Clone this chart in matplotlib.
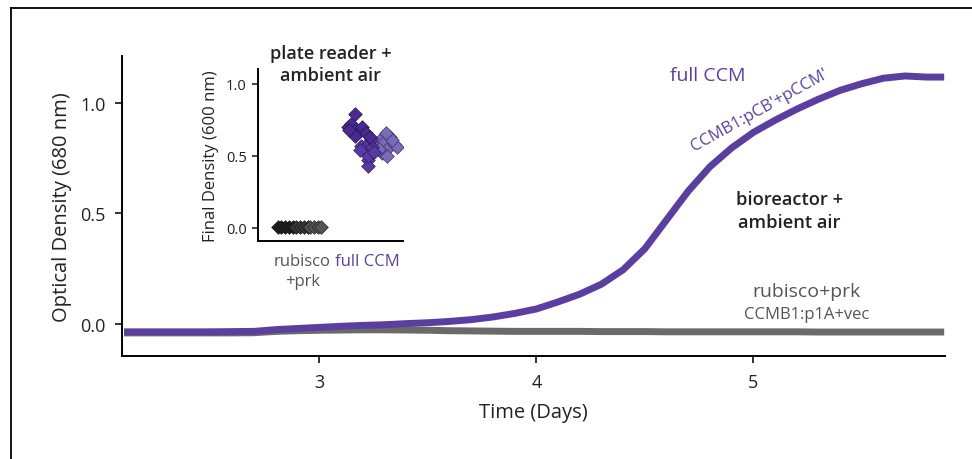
import numpy as np
import matplotlib.pyplot as plt
from matplotlib.lines import Line2D

plt.rcParams['font.family'] = ['Open Sans', 'DejaVu Sans']

# growth curves (bioreactor)
days = [2.1, 2.2, 2.3, 2.4, 2.5, 2.6, 2.7, 2.8, 2.9, 3.0, 3.1, 3.2, 3.3, 3.4,
        3.5, 3.6, 3.7, 3.8, 3.9, 4.0, 4.1, 4.2, 4.3, 4.4, 4.5, 4.6, 4.7, 4.8,
        4.9, 5.0, 5.1, 5.2, 5.3, 5.4, 5.5, 5.6, 5.7, 5.8, 5.88]
od_full_ccm = [-0.035, -0.035, -0.035, -0.035, -0.035, -0.034, -0.033, -0.025,
               -0.02, -0.015, -0.01, -0.006, -0.003, 0.002, 0.006, 0.012, 0.02,
               0.032, 0.048, 0.068, 0.10, 0.135, 0.18, 0.245, 0.34, 0.47, 0.60,
               0.71, 0.795, 0.865, 0.92, 0.97, 1.015, 1.055, 1.085, 1.11, 1.12,
               1.115, 1.115]
od_rubisco = [-0.04, -0.04, -0.04, -0.04, -0.04, -0.04, -0.039, -0.033, -0.03,
              -0.028, -0.027, -0.026, -0.026, -0.027, -0.028, -0.03, -0.031,
              -0.032, -0.033, -0.033, -0.033, -0.033, -0.034, -0.034, -0.034,
              -0.035, -0.035, -0.035, -0.035, -0.035, -0.035, -0.035, -0.036,
              -0.036, -0.036, -0.036, -0.036, -0.036, -0.036]

# inset: final densities in plate reader (x offset within category, value)
rub_black_x = [-0.38, -0.32, -0.26, -0.20, -0.14]
rub_black_y = [0.005, 0.005, 0.005, 0.005, 0.005]
rub_dark_x = [-0.10, -0.04, 0.02, 0.08]
rub_dark_y = [0.006, 0.006, 0.006, 0.006]
rub_grey_x = [0.12, 0.18, 0.24, 0.29]
rub_grey_y = [0.006, 0.006, 0.006, 0.006]

ccm_dark_x = [-0.30, -0.25, -0.20, -0.18, -0.12, -0.20, -0.08, -0.02, 0.04, -0.28]
ccm_dark_y = [0.70, 0.72, 0.79, 0.69, 0.67, 0.64, 0.70, 0.66, 0.63, 0.68]
ccm_mid_x = [-0.10, -0.05, 0.0, 0.02, 0.0, 0.0, 0.0, 0.07, 0.10, -0.12, 0.05]
ccm_mid_y = [0.57, 0.55, 0.52, 0.60, 0.47, 0.43, 0.50, 0.56, 0.53, 0.54, 0.62]
ccm_light_x = [0.15, 0.20, 0.25, 0.30, 0.35, 0.40, 0.22, 0.30, 0.45, 0.38, 0.28, 0.17]
ccm_light_y = [0.58, 0.62, 0.60, 0.55, 0.63, 0.58, 0.52, 0.50, 0.56, 0.61, 0.66, 0.55]

purple = '#5b3fa0'
grey = '#6a6a6a'
txt = '#222222'

fig = plt.figure(figsize=(9.72, 4.6), dpi=100)

# frame lines of the panel (left and top only)
fig.add_artist(Line2D([0.0113, 0.0113], [0.0, 0.98], color='black', lw=1.3,
                      transform=fig.transFigure))
fig.add_artist(Line2D([0.0113, 1.0], [0.98, 0.98], color='black', lw=1.3,
                      transform=fig.transFigure))

ax = fig.add_axes([0.1255, 0.224, 0.847, 0.652])
ax.plot(days, od_rubisco, color=grey, lw=5.0, solid_capstyle='butt')
ax.plot(days, od_full_ccm, color=purple, lw=5.0, solid_capstyle='butt',
        solid_joinstyle='round')
ax.set_xlim(2.09, 5.885)
ax.set_ylim(-0.144, 1.21)
ax.set_xticks([3, 4, 5])
ax.set_yticks([0.0, 0.5, 1.0])
ax.set_yticklabels(['0.0', '0.5', '1.0'])
ax.spines['top'].set_visible(False)
ax.spines['right'].set_visible(False)
for s in ['left', 'bottom']:
    ax.spines[s].set_linewidth(1.4)
ax.tick_params(direction='out', length=5, width=1.3, labelsize=13,
               colors=txt, pad=7)
ax.set_xlabel('Time (Days)', fontsize=14.5, color=txt, labelpad=8)
ax.set_ylabel('Optical Density (680 nm)', fontsize=14.5, color=txt, labelpad=6)

ax.text(4.79, 1.126, 'full CCM', color=purple, fontsize=14, ha='center', va='center')
ax.text(5.03, 0.97, "CCMB1:pCB'+pCCM'", color=purple, fontsize=12,
        ha='center', va='center', rotation=29)
ax.text(5.166, 0.513, 'bioreactor +\nambient air', color=txt, fontsize=13.2,
        fontweight='semibold', ha='center', va='center', linespacing=1.3)
ax.text(5.245, 0.149, 'rubisco+prk', color='#555555', fontsize=14,
        ha='center', va='center')
ax.text(5.245, 0.045, 'CCMB1:p1A+vec', color='#555555', fontsize=12,
        ha='center', va='center')

# inset
ins = fig.add_axes([0.2654, 0.474, 0.149, 0.374])
cats = [0, 1]
ms = 48
ins.scatter([cats[0] + v for v in rub_black_x], rub_black_y, marker='D', s=ms,
            color='#1e1e1e', edgecolor='#111111', lw=0.5, zorder=3)
ins.scatter([cats[0] + v for v in rub_dark_x], rub_dark_y, marker='D', s=ms,
            color='#3a3a3a', edgecolor='#111111', lw=0.5, zorder=3)
ins.scatter([cats[0] + v for v in rub_grey_x], rub_grey_y, marker='D', s=ms,
            color='#555555', edgecolor='#222222', lw=0.5, zorder=3)
ins.scatter([cats[1] + v for v in ccm_light_x], ccm_light_y, marker='D', s=ms,
            color='#7a6bb8', edgecolor='#3c2f70', lw=0.5, zorder=3)
ins.scatter([cats[1] + v for v in ccm_mid_x], ccm_mid_y, marker='D', s=ms,
            color='#5a3aa2', edgecolor='#2d1d60', lw=0.5, zorder=4)
ins.scatter([cats[1] + v for v in ccm_dark_x], ccm_dark_y, marker='D', s=ms,
            color='#4a2a90', edgecolor='#25154f', lw=0.5, zorder=4)
ins.set_xlim(-0.68, 1.54)
ins.set_ylim(-0.09, 1.104)
ins.set_yticks([0.0, 0.5, 1.0])
ins.set_yticklabels(['0.0', '0.5', '1.0'])
ins.set_xticks(cats)
ins.set_xticklabels(['rubisco\n+prk', 'full CCM'])
ins.tick_params(axis='x', length=0, labelsize=12, pad=9)
ins.tick_params(axis='y', direction='out', length=4, width=1.2,
                labelsize=10.5, colors=txt, pad=4)
xl = ins.get_xticklabels()
xl[0].set_color('#555555')
xl[0].set_linespacing(1.3)
xl[1].set_color(purple)
ins.spines['top'].set_visible(False)
ins.spines['right'].set_visible(False)
for s in ['left', 'bottom']:
    ins.spines[s].set_linewidth(1.4)
ins.set_ylabel('Final Density (600 nm)', fontsize=12, color=txt, labelpad=5)
ins.text(0.5, 1.03, 'plate reader +\nambient air', transform=ins.transAxes,
         fontsize=13, fontweight='semibold', color=txt, ha='center',
         va='center', linespacing=1.3)

fig.savefig('out.png', dpi=100)
